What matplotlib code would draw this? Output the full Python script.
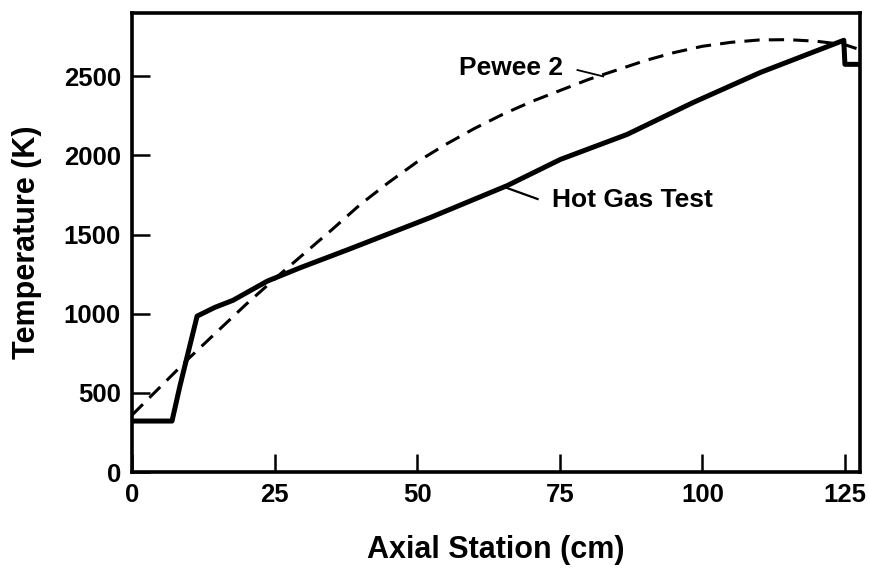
import matplotlib
matplotlib.use('Agg')
import matplotlib.pyplot as plt

plt.rcParams['font.family'] = ['Liberation Sans', 'DejaVu Sans']
plt.rcParams['font.weight'] = 'bold'

# Hot Gas Test (solid line)
hot_x = [0, 7.0, 8.4, 11.4, 14.5, 17.7, 23.7, 29.5, 38.2, 52.3, 65.8, 75.1, 86.8, 98.4, 110.2, 124.8, 125.0, 127.7]
hot_T = [322, 322, 545, 985, 1040, 1085, 1206, 1291, 1410, 1608, 1810, 1975, 2133, 2335, 2525, 2728, 2576, 2576]

# Pewee 2 (dashed line)
pw_x = [0, 5, 10, 15, 20, 25, 30, 35, 40, 45, 50, 55, 60, 65, 70, 75, 80, 85,
        90, 95, 100, 105, 110, 115, 120, 125, 127.7]
pw_T = [360, 540, 720, 890, 1060, 1220, 1375, 1530, 1690, 1830, 1960, 2070, 2170, 2260,
        2340, 2410, 2480, 2540, 2600, 2650, 2690, 2715, 2730, 2732, 2722, 2700, 2668]

xticks = [0, 25, 50, 75, 100, 125]
yticks = [0, 500, 1000, 1500, 2000, 2500]

fig = plt.figure(figsize=(8.69, 5.68), dpi=100)
ax = fig.add_axes([0.152, 0.169, 0.838, 0.808])

ax.plot(hot_x, hot_T, color='black', lw=3.6, solid_joinstyle='round')
ax.plot(pw_x, pw_T, color='black', lw=2.2, dashes=(5, 3))

ax.set_xlim(0, 127.7)
ax.set_ylim(0, 2900)
ax.set_xticks(xticks)
ax.set_yticks(yticks)
ax.tick_params(direction='in', length=13, width=1.8, labelsize=18.5, pad=8)
for s in ax.spines.values():
    s.set_linewidth(2.6)

ax.set_xlabel('Axial Station (cm)', fontsize=22, fontweight='bold', labelpad=20)
ax.set_ylabel('Temperature (K)', fontsize=22, fontweight='bold', labelpad=16)

# labels on the curves
ax.text(66.5, 2552, 'Pewee 2', fontsize=19, fontweight='bold', ha='center', va='center')
ax.plot([78.1, 82.6], [2540, 2500], color='black', lw=1.3)
ax.text(73.7, 1718, 'Hot Gas Test', fontsize=19, fontweight='bold', ha='left', va='center')
ax.plot([65.8, 71.1], [1794, 1725], color='black', lw=1.6)

fig.savefig('out.png', dpi=100)
